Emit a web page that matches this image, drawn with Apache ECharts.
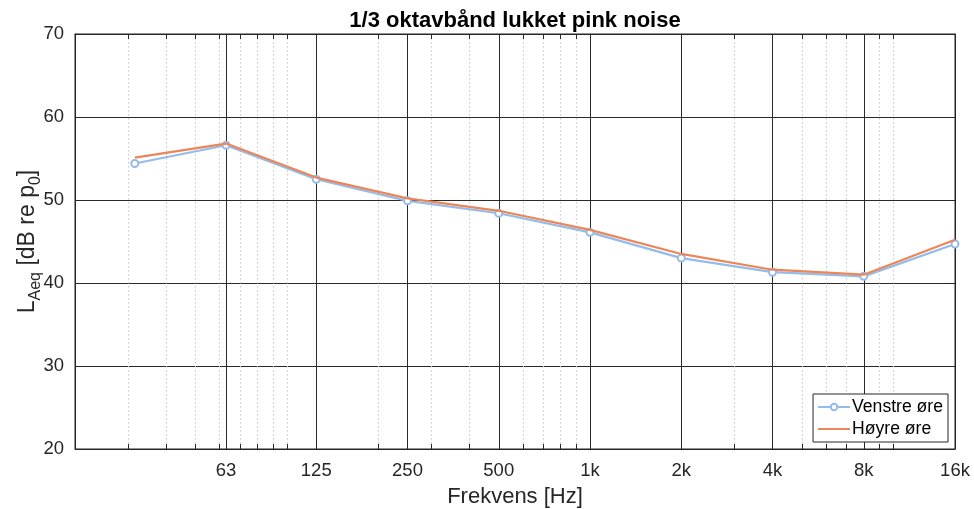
<!DOCTYPE html>
<html>
<head>
<meta charset="utf-8">
<script src="https://cdn.jsdelivr.net/npm/echarts@6/dist/echarts.min.js"></script>
<style>html,body{margin:0;padding:0;background:#fff}#c{width:974px;height:509px}</style>
</head>
<body>
<div id="c"></div>
<script>
// Data
const freqs = [31.5, 63, 125, 250, 500, 1000, 2000, 4000, 8000, 16000];
const venstre = [54.4, 56.6, 52.5, 49.9, 48.4, 46.1, 43.0, 41.3, 40.8, 44.7];
const hoyre = [55.1, 56.8, 52.7, 50.2, 48.7, 46.4, 43.5, 41.6, 41.0, 45.2];
const tickValues = [63, 125, 250, 500, 1000, 2000, 4000, 8000, 16000];
const tickLabels = ['63', '125', '250', '500', '1k', '2k', '4k', '8k', '16k'];
const minorValues = [30, 40, 50, 60, 70, 80, 90, 100, 200, 300, 400, 600, 700, 800, 900,
  3000, 5000, 6000, 7000, 9000, 10000];
const yTicks = [20, 30, 40, 50, 60, 70];

const FONT = '"Liberation Sans", Arial, Helvetica, sans-serif';
const AX = '#262626';

function labelFor(v) {
  let best = 0, bd = Infinity;
  tickValues.forEach((t, i) => { const d = Math.abs(Math.log(v) - Math.log(t)); if (d < bd) { bd = d; best = i; } });
  return tickLabels[best];
}

const chart = echarts.init(document.getElementById('c'), null, { renderer: 'canvas' });

const baseX = { type: 'log', logBase: 10, min: 20, max: 16000 };

chart.setOption({
  animation: false,
  backgroundColor: '#fff',
  title: {
    text: '1/3 oktavbånd lukket pink noise',
    left: 510, top: 5, textAlign: 'center',
    textStyle: { fontFamily: FONT, fontSize: 22, fontWeight: 'bold', color: '#000' }
  },
  grid: { left: 75, right: 19, top: 34, bottom: 60, outerBoundsMode: 'none',
    show: true, borderColor: AX, borderWidth: 1, backgroundColor: 'transparent' },
  legend: {
    orient: 'vertical', right: 26, top: 394,
    data: [{ name: 'Venstre øre' }, { name: 'Høyre øre', itemStyle: { opacity: 0 } }],
    backgroundColor: '#fff', borderColor: AX, borderWidth: 1,
    padding: [4, 5, 4, 4], itemGap: 4, itemWidth: 32, itemHeight: 8,
    textStyle: { fontFamily: FONT, fontSize: 17.6, color: '#000', padding: [0, 0, 0, -3] }
  },
  xAxis: [
    Object.assign({}, baseX, {
      position: 'bottom',
      name: 'Frekvens [Hz]', nameLocation: 'middle', nameGap: 37,
      nameTextStyle: { fontFamily: FONT, fontSize: 22, color: '#262626' },
      axisLine: { show: true, lineStyle: { color: AX, width: 1 } },
      axisTick: { show: true, inside: true, length: 6, customValues: tickValues, lineStyle: { color: AX } },
      axisLabel: { customValues: tickValues, formatter: v => labelFor(v), margin: 12,
        fontFamily: FONT, fontSize: 18.5, color: '#262626' },
      splitLine: { show: true, lineStyle: { color: '#2a2a2a', width: 1 } },
      minorTick: { show: false }, minorSplitLine: { show: false }
    }),
    Object.assign({}, baseX, {
      position: 'bottom',
      axisLine: { show: false },
      axisTick: { show: true, inside: true, length: 5, customValues: minorValues, lineStyle: { color: AX } },
      axisLabel: { show: false, customValues: minorValues },
      splitLine: { show: true, lineStyle: { color: '#c8c8c8', width: 1, type: [1.5, 2.5] } }
    }),
    Object.assign({}, baseX, {
      position: 'top',
      axisLine: { show: true, lineStyle: { color: AX } },
      axisTick: { show: true, inside: true, length: 6, customValues: tickValues, lineStyle: { color: AX } },
      axisLabel: { show: false, customValues: tickValues },
      splitLine: { show: false }
    }),
    Object.assign({}, baseX, {
      position: 'top',
      axisLine: { show: false },
      axisTick: { show: true, inside: true, length: 5, customValues: minorValues, lineStyle: { color: AX } },
      axisLabel: { show: false, customValues: minorValues },
      splitLine: { show: false }
    })
  ],
  yAxis: [
    {
      type: 'value', min: 20, max: 70, interval: 10, position: 'left',
      name: '{m|L}{s|Aeq}{m| [dB re p}{s|0}{m|]}',
      nameLocation: 'middle', nameRotate: 90, nameGap: 35, nameMoveOverlap: false,
      nameTextStyle: {
        rich: {
          m: { fontFamily: FONT, fontSize: 23, color: '#262626', lineHeight: 24, verticalAlign: 'top' },
          s: { fontFamily: FONT, fontSize: 16, color: '#262626', lineHeight: 16, padding: [12, 0, 0, 0], verticalAlign: 'top' }
        }
      },
      axisLine: { show: true, lineStyle: { color: AX } },
      axisTick: { show: true, inside: true, length: 6, lineStyle: { color: AX } },
      axisLabel: { margin: 11, fontFamily: FONT, fontSize: 18.5, color: '#262626' },
      splitLine: { show: true, lineStyle: { color: '#2a2a2a', width: 1 } }
    },
    {
      type: 'value', min: 20, max: 70, interval: 10, position: 'right',
      axisLine: { show: true, lineStyle: { color: AX } },
      axisTick: { show: true, inside: true, length: 6, lineStyle: { color: AX } },
      axisLabel: { show: false },
      splitLine: { show: false }
    }
  ],
  series: [
    {
      name: 'Venstre øre', type: 'line', xAxisIndex: 0, yAxisIndex: 0,
      data: freqs.map((f, i) => [f, venstre[i]]),
      symbol: 'emptyCircle', symbolSize: 7, showSymbol: true,
      color: '#93BCEA',
      lineStyle: { width: 2.2, color: '#93BCEA' },
      itemStyle: { color: '#93BCEA', borderColor: '#93BCEA', borderWidth: 1.5 },
      z: 3
    },
    {
      name: 'Høyre øre', type: 'line', xAxisIndex: 0, yAxisIndex: 0,
      data: freqs.map((f, i) => [f, hoyre[i]]),
      symbol: 'none', showSymbol: false,
      color: '#EC8558',
      lineStyle: { width: 2.2, color: '#EC8558' },
      z: 4
    }
  ]
});
</script>
</body>
</html>
